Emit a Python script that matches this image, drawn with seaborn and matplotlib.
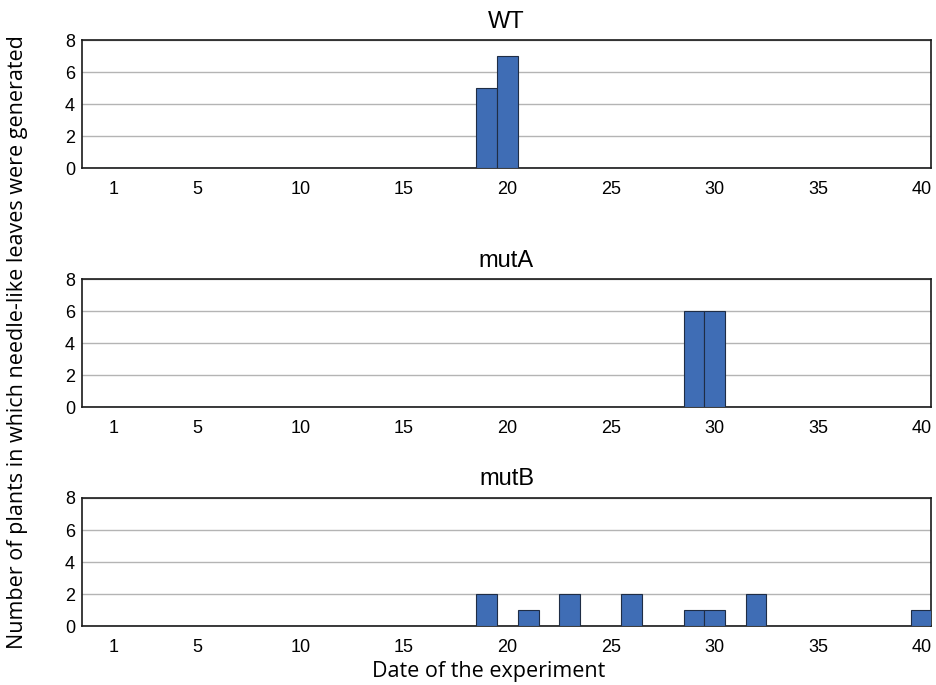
import numpy as np
import pandas as pd
import seaborn as sns
import matplotlib.pyplot as plt

# days of the experiment and counts per line
days = list(range(1, 41))
wt_days = [19, 20]
wt_counts = [5, 7]
muta_days = [29, 30]
muta_counts = [6, 6]
mutb_days = [14, 16, 19, 21, 23, 26, 29, 30, 32, 40]
mutb_counts = [0, 0, 2, 1, 2, 2, 1, 1, 2, 1]

panels = ["WT", "mutA", "mutB"]
tick_days = [1, 5, 10, 15, 20, 25, 30, 35, 40]


def make_df(d, c):
    s = pd.Series(0.0, index=days)
    s.loc[d] = c
    return pd.DataFrame({"day": days, "count": s.values})


data = {
    "WT": make_df(wt_days, wt_counts),
    "mutA": make_df(muta_days, muta_counts),
    "mutB": make_df(mutb_days, mutb_counts),
}

sns.set_style("white")
plt.rcParams['font.family'] = ['Liberation Sans', 'DejaVu Sans']
plt.rcParams['text.color'] = 'black'
plt.rcParams['xtick.color'] = 'black'
plt.rcParams['ytick.color'] = 'black'

fig = plt.figure(figsize=(9.36, 6.85), dpi=100)
bottoms = [0.7547, 0.4058, 0.0861]
bar_color = "#3f6db5"

for name, b in zip(panels, bottoms):
    ax = fig.add_axes([0.0876, b, 0.907, 0.1869])
    df = data[name]
    sns.barplot(data=df, x="day", y="count", native_scale=True, width=1.0,
                color=bar_color, edgecolor="#1f2d45", linewidth=0.8,
                saturation=1, ax=ax, zorder=3)
    ax.set_xlim(-0.55, 40.45)
    ax.set_ylim(0, 8)
    ax.set_yticks([0, 2, 4, 6, 8])
    ax.set_xticks(tick_days)
    ax.tick_params(axis="both", labelsize=13, length=0)
    ax.tick_params(axis="x", pad=9)
    ax.tick_params(axis="y", pad=5)
    ax.yaxis.grid(True, color="#b4b4b4", linewidth=1, zorder=0)
    ax.set_axisbelow(True)
    for sp in ax.spines.values():
        sp.set_color("#1a1a1a")
        sp.set_linewidth(1.2)
    ax.set_xlabel("")
    ax.set_ylabel("")
    ax.set_title(name, fontsize=17, pad=9)

fig.text(0.008, 0.5, "Number of plants in which needle-like leaves were generated",
         rotation=90, va="center", ha="left", fontsize=15.5, family=["Open Sans", "DejaVu Sans"])
fig.text(0.522, 0.005, "Date of the experiment", ha="center", va="bottom",
         fontsize=15.5, family=["Open Sans", "DejaVu Sans"])

fig.savefig("out.png", dpi=100)
